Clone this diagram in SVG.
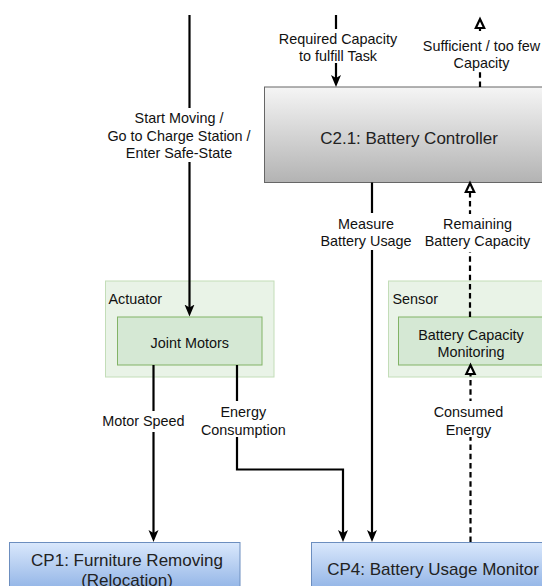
<svg xmlns="http://www.w3.org/2000/svg" width="542" height="586" viewBox="0 0 542 586">
<style>
text{font-family:"Liberation Sans",Arial,sans-serif;fill:#111}
.lbl{font-size:14.4px;text-anchor:middle}
.ttl{font-size:17px;text-anchor:middle;fill:#222}
.grp{font-size:14.4px;text-anchor:start}
.ln{fill:none;stroke:#000;stroke-width:2.2}
.dash{stroke-dasharray:5.5 3.7}
.bg{fill:#fff;stroke:none}
</style>
<defs>
<linearGradient id="gGray" x1="0" y1="0" x2="0" y2="1">
<stop offset="0" stop-color="#f5f5f5"/><stop offset="1" stop-color="#b3b3b3"/>
</linearGradient>
<linearGradient id="gBlue" x1="0" y1="0" x2="0" y2="1">
<stop offset="0" stop-color="#dae8fc"/><stop offset="1" stop-color="#7ea6e0"/>
</linearGradient>
<marker id="arr" viewBox="0 0 12 12" refX="4" refY="6" markerWidth="12" markerHeight="12" markerUnits="userSpaceOnUse" orient="auto">
<path d="M0,1 L12,6 L0,11 L3,6 z" fill="#000"/>
</marker>
<marker id="open" viewBox="-2 -2 14 13" refX="0" refY="4.5" markerWidth="14" markerHeight="13" markerUnits="userSpaceOnUse" orient="auto" overflow="visible">
<path d="M0,0.3 L9,4.5 L0,8.7 z" fill="#fff" stroke="#000" stroke-width="2.2" stroke-linejoin="miter"/>
</marker>
</defs>
<rect width="542" height="586" fill="#fff"/>
<g id="actuator">
<rect x="105.5" y="281" width="168.5" height="96" fill="#e9f3e7" stroke="#c3ddb8"/>
<text class="grp" x="108.5" y="304">Actuator</text>
</g>
<g id="sensor">
<rect x="388.5" y="281" width="170" height="96" fill="#e9f3e7" stroke="#c3ddb8"/>
<text class="grp" x="392.5" y="304">Sensor</text>
</g>
<g id="battery-controller">
<rect x="264.5" y="87" width="290" height="95.5" fill="url(#gGray)" stroke="#666"/>
<text class="ttl" x="409" y="144">C2.1: Battery Controller</text>
</g>
<g id="joint-motors">
<rect x="117.5" y="317" width="144.5" height="48" fill="#d5e8d4" stroke="#82b366"/>
<text class="lbl" x="189.8" y="348">Joint Motors</text>
</g>
<g id="battery-capacity-monitoring">
<rect x="398.5" y="317" width="160" height="48" fill="#d5e8d4" stroke="#82b366"/>
<text class="lbl" x="471" y="339.5">Battery Capacity</text>
<text class="lbl" x="471" y="357">Monitoring</text>
</g>
<g id="cp1">
<rect x="9.5" y="542.5" width="230.5" height="60" fill="url(#gBlue)" stroke="#6c8ebf"/>
<text class="ttl" x="127" y="566">CP1: Furniture Removing</text>
<text class="ttl" x="127" y="585.5">(Relocation)</text>
</g>
<g id="cp4">
<rect x="311.5" y="542.5" width="260" height="60" fill="url(#gBlue)" stroke="#6c8ebf"/>
<text class="ttl" x="433" y="574.5">CP4: Battery Usage Monitor</text>
</g>
<g id="connectors">
<path class="ln" d="M189.5,15 V308.5" marker-end="url(#arr)"/>
<path class="ln" d="M336,15 V79" marker-end="url(#arr)"/>
<path class="ln dash" d="M480,87 V28" marker-end="url(#open)"/>
<path class="ln" d="M372,182.5 V534" marker-end="url(#arr)"/>
<path class="ln dash" d="M470,317 V192" marker-end="url(#open)"/>
<path class="ln" d="M153.5,365 V534" marker-end="url(#arr)"/>
<path class="ln" d="M237,365 V469.5 H343 V534" marker-end="url(#arr)"/>
<path class="ln dash" d="M470.5,542 V374" marker-end="url(#open)"/>
<rect class="bg" x="106" y="108" width="146" height="54"/>
<rect class="bg" x="279" y="29" width="118" height="34"/>
<rect class="bg" x="423" y="31" width="117" height="40"/>
<rect class="bg" x="318" y="213" width="96" height="37"/>
<rect class="bg" x="423" y="214" width="110" height="38"/>
<rect class="bg" x="100" y="411" width="86" height="21"/>
<rect class="bg" x="190" y="401" width="106" height="36"/>
<rect class="bg" x="432" y="401" width="74" height="36"/>
<text class="lbl" x="179" y="123">Start Moving /</text>
<text class="lbl" x="179" y="140.5">Go to Charge Station /</text>
<text class="lbl" x="179" y="158">Enter Safe-State</text>
<text class="lbl" x="338" y="43.5">Required Capacity</text>
<text class="lbl" x="338" y="61">to fulfill Task</text>
<text class="lbl" x="481.5" y="50.5">Sufficient / too few</text>
<text class="lbl" x="481.5" y="68">Capacity</text>
<text class="lbl" x="366" y="228.5">Measure</text>
<text class="lbl" x="366" y="246">Battery Usage</text>
<text class="lbl" x="477.5" y="228.5">Remaining</text>
<text class="lbl" x="477.5" y="246">Battery Capacity</text>
<text class="lbl" x="143.4" y="426">Motor Speed</text>
<text class="lbl" x="243.3" y="417">Energy</text>
<text class="lbl" x="243.3" y="434.5">Consumption</text>
<text class="lbl" x="468.5" y="417">Consumed</text>
<text class="lbl" x="468.5" y="434.5">Energy</text>
</g>
</svg>
